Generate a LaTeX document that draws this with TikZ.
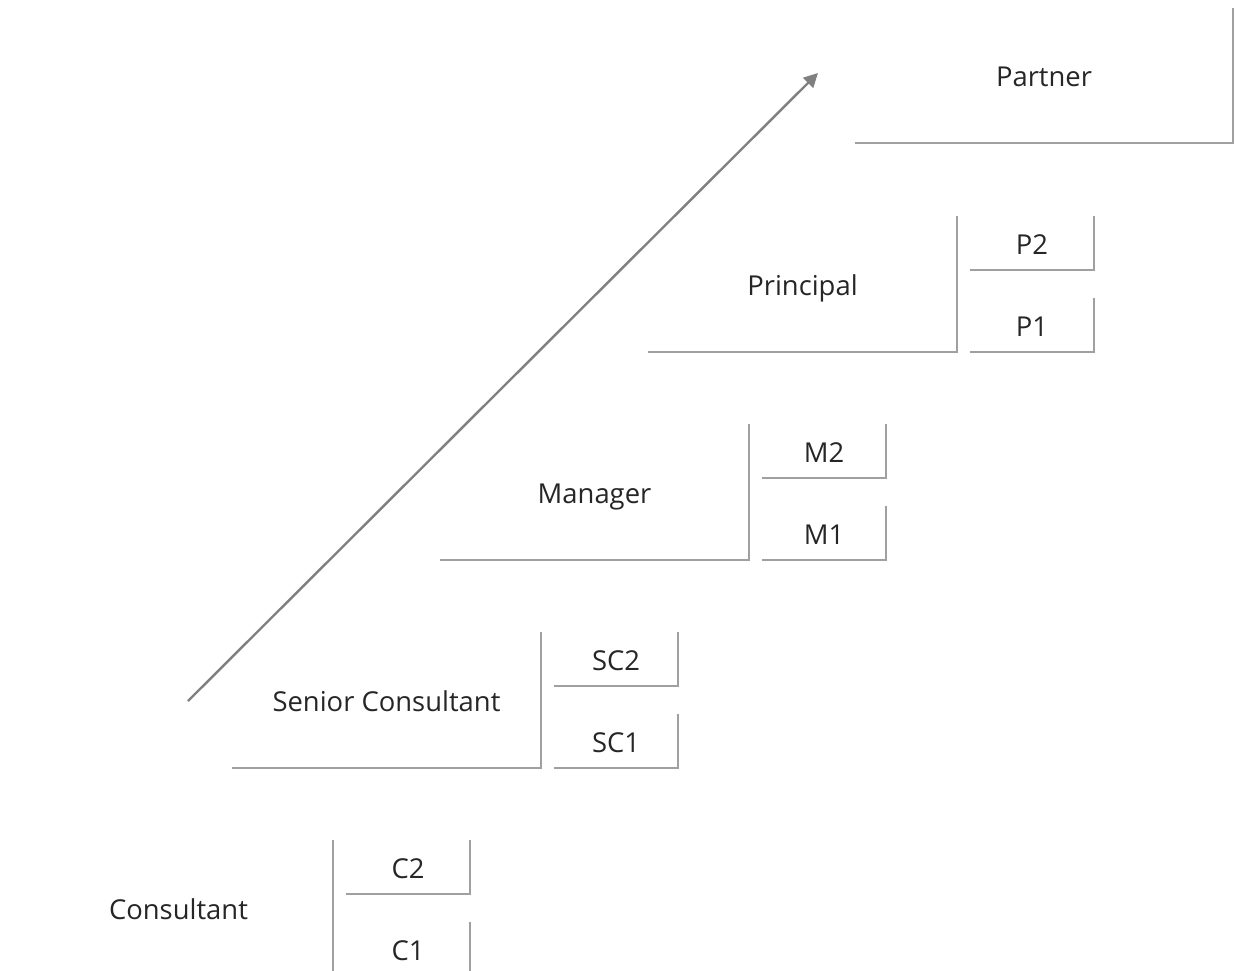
\documentclass[tikz,border=0pt]{standalone}
\usepackage{fontspec}
\setmainfont{Open Sans}
\usetikzlibrary{arrows.meta}
\definecolor{linegray}{HTML}{A0A0A0}
\definecolor{arrowgray}{HTML}{808080}
\definecolor{textgray}{HTML}{262626}
\begin{document}
\begin{tikzpicture}[x=1pt,y=-1pt,
  labelfont/.style={text=textgray,font=\fontsize{27.4}{32}\selectfont,text height=24pt,text depth=1pt},
  bigbox/.style={minimum width=309pt,minimum height=136pt,inner sep=0pt,labelfont},
  partnerbox/.style={minimum width=378pt,minimum height=135pt,inner sep=0pt,labelfont},
  subbox/.style={minimum width=124pt,minimum height=54pt,inner sep=0pt,labelfont},
  edge/.style={draw=linegray,line width=1.5pt},
  growth/.style={draw=arrowgray,line width=2.4pt,-{Triangle[length=14pt,width=14pt]}}]
\useasboundingbox (0,0) rectangle (1245,971);
\begin{scope}
\clip (0,0) rectangle (1245,971);
% Partner
\node[partnerbox] (partner) at (1044,75.5) {Partner};
\draw[edge] (partner.south west) -- (partner.south east) -- (partner.north east);
% Principal
\node[bigbox] (principal) at (802.5,284) {Principal};
\draw[edge] (principal.south west) -- (principal.south east) -- (principal.north east);
\node[subbox] (p2) at (1032,243) {P2};
\draw[edge] (p2.south west) -- (p2.south east) -- (p2.north east);
\node[subbox] (p1) at (1032,325) {P1};
\draw[edge] (p1.south west) -- (p1.south east) -- (p1.north east);
% Manager
\node[bigbox] (manager) at (594.5,492) {Manager};
\draw[edge] (manager.south west) -- (manager.south east) -- (manager.north east);
\node[subbox] (m2) at (824,451) {M2};
\draw[edge] (m2.south west) -- (m2.south east) -- (m2.north east);
\node[subbox] (m1) at (824,533) {M1};
\draw[edge] (m1.south west) -- (m1.south east) -- (m1.north east);
% Senior Consultant
\node[bigbox] (senior) at (386.5,700) {Senior Consultant};
\draw[edge] (senior.south west) -- (senior.south east) -- (senior.north east);
\node[subbox] (sc2) at (616,659) {SC2};
\draw[edge] (sc2.south west) -- (sc2.south east) -- (sc2.north east);
\node[subbox] (sc1) at (616,741) {SC1};
\draw[edge] (sc1.south west) -- (sc1.south east) -- (sc1.north east);
% Consultant
\node[bigbox] (consultant) at (178.5,908) {Consultant};
\draw[edge] (consultant.south west) -- (consultant.south east) -- (consultant.north east);
\node[subbox] (c2) at (408,867) {C2};
\draw[edge] (c2.south west) -- (c2.south east) -- (c2.north east);
\node[subbox] (c1) at (408,949) {C1};
\draw[edge] (c1.south west) -- (c1.south east) -- (c1.north east);
\end{scope}
% Growth arrow
\coordinate (arrowstart) at (188,701);
\coordinate (arrowend) at (818,73);
\draw[growth] (arrowstart) -- (arrowend);
\end{tikzpicture}
\end{document}
